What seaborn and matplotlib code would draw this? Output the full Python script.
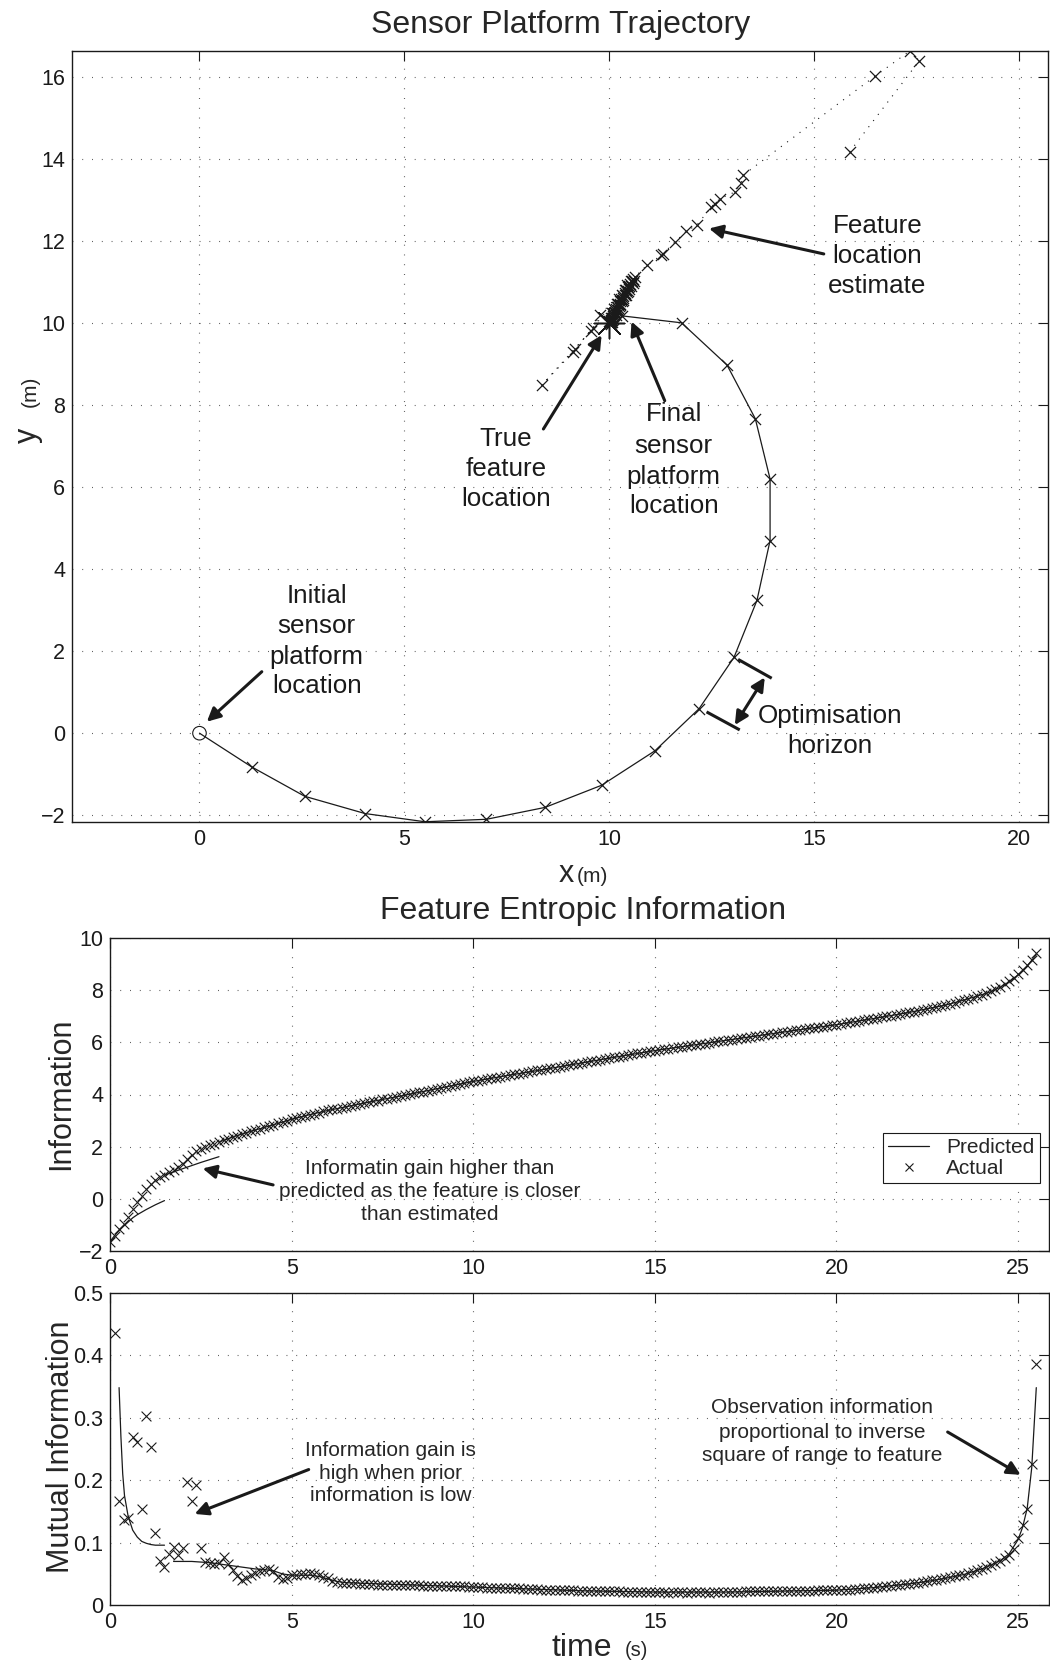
import numpy as np
import pandas as pd
import matplotlib
matplotlib.use("Agg")
import matplotlib.pyplot as plt
import seaborn as sns
from matplotlib.lines import Line2D

# ---------------- sensor platform trajectory (m) ----------------
traj_x = [0.00, 1.27, 2.57, 4.04, 5.50, 7.00, 8.43, 9.81, 11.11, 12.19,
          13.04, 13.60, 13.92, 13.92, 13.56, 12.87, 11.76, 10.30]
traj_y = [0.00, -0.82, -1.54, -1.96, -2.16, -2.10, -1.81, -1.27, -0.43, 0.60,
          1.85, 3.24, 4.70, 6.20, 7.67, 8.98, 10.01, 10.18]

# successive feature location estimates (m)
est_x = [15.86, 17.56, 17.33, 16.47, 13.26, 13.22, 13.06, 12.70, 12.57, 12.49,
         12.13, 11.88, 11.60, 11.31, 11.27, 10.91, 10.62, 9.16, 9.12, 8.35,
         9.55, 9.60, 9.77,
         10.58, 10.55, 10.57, 10.50, 10.49, 10.45, 10.47, 10.41, 10.42, 10.37,
         10.38, 10.33, 10.34, 10.29, 10.30, 10.26, 10.27, 10.22, 10.23, 10.19,
         10.20, 10.16, 10.17, 10.13, 10.14, 10.10, 10.11, 10.08, 10.09, 10.06,
         10.06, 10.04, 10.04, 10.03, 10.02, 10.02, 10.01,
         10.60, 10.52, 10.53, 10.44, 10.46, 10.37, 10.40, 10.31, 10.33, 10.24,
         10.27, 10.18, 10.21, 10.12, 10.15, 10.07, 10.10, 10.03, 10.06, 9.99,
         10.03, 10.00]
est_y = [14.18, 16.40, 16.64, 16.02, 13.61, 13.41, 13.20, 13.04, 12.92, 12.84,
         12.39, 12.25, 11.98, 11.70, 11.66, 11.41, 11.13, 9.36, 9.30, 8.49,
         9.82, 9.88, 10.20,
         11.08, 11.04, 10.99, 10.96, 10.90, 10.88, 10.83, 10.80, 10.75, 10.73,
         10.68, 10.66, 10.61, 10.59, 10.55, 10.53, 10.48, 10.47, 10.42, 10.40,
         10.36, 10.34, 10.30, 10.28, 10.24, 10.23, 10.19, 10.17, 10.13, 10.12,
         10.09, 10.08, 10.05, 10.04, 10.03, 10.01, 10.01,
         11.02, 11.03, 10.91, 10.93, 10.79, 10.80, 10.68, 10.69, 10.57, 10.58,
         10.45, 10.46, 10.33, 10.35, 10.21, 10.24, 10.10, 10.13, 10.03, 10.06,
         9.98, 10.00]

true_feature_x = [10.0]
true_feature_y = [10.0]

# ---------------- entropic information (sampled at 8 Hz) ----------------
sample_rate_hz = 8

info_actual = [
    -1.63, -1.40, -1.15, -0.95, -0.68, -0.40, -0.12, 0.12, 0.38, 0.58,
    0.74, 0.84, 0.92, 1.02, 1.12, 1.22, 1.33, 1.52, 1.68, 1.83,
    1.92, 1.99, 2.06, 2.12, 2.18, 2.25, 2.31, 2.37, 2.43, 2.49,
    2.54, 2.59, 2.64, 2.69, 2.74, 2.79, 2.84, 2.90, 2.95, 3.00,
    3.05, 3.09, 3.14, 3.19, 3.23, 3.27, 3.31, 3.35, 3.39, 3.43,
    3.46, 3.50, 3.53, 3.57, 3.60, 3.64, 3.67, 3.71, 3.74, 3.77,
    3.81, 3.84, 3.88, 3.91, 3.94, 3.98, 4.01, 4.04, 4.08, 4.11,
    4.15, 4.18, 4.22, 4.25, 4.29, 4.32, 4.36, 4.39, 4.43, 4.46,
    4.50, 4.53, 4.56, 4.59, 4.62, 4.65, 4.68, 4.71, 4.74, 4.77,
    4.80, 4.83, 4.86, 4.89, 4.92, 4.95, 4.97, 5.00, 5.03, 5.06,
    5.09, 5.12, 5.15, 5.18, 5.21, 5.24, 5.27, 5.30, 5.33, 5.36,
    5.39, 5.42, 5.45, 5.48, 5.51, 5.54, 5.57, 5.60, 5.62, 5.65,
    5.68, 5.70, 5.73, 5.75, 5.78, 5.80, 5.83, 5.85, 5.88, 5.90,
    5.93, 5.95, 5.98, 6.00, 6.03, 6.05, 6.08, 6.10, 6.13, 6.15,
    6.18, 6.20, 6.23, 6.25, 6.28, 6.30, 6.33, 6.35, 6.38, 6.40,
    6.43, 6.45, 6.48, 6.50, 6.53, 6.55, 6.58, 6.60, 6.63, 6.65,
    6.67, 6.70, 6.73, 6.76, 6.79, 6.82, 6.84, 6.87, 6.90, 6.93,
    6.96, 6.99, 7.02, 7.05, 7.08, 7.11, 7.14, 7.17, 7.21, 7.24,
    7.28, 7.31, 7.35, 7.38, 7.42, 7.46, 7.51, 7.56, 7.61, 7.66,
    7.71, 7.76, 7.82, 7.89, 7.96, 8.04, 8.12, 8.22, 8.33, 8.46,
    8.62, 8.78, 8.96, 9.16, 9.42]

# predicted information, one segment per planning horizon
pred_info_t_a = [0.0, 0.125, 0.25, 0.375, 0.5, 0.625, 0.75, 1.0, 1.25, 1.5]
pred_info_a = [-1.63, -1.40, -1.21, -1.04, -0.88, -0.72, -0.60, -0.40, -0.22, -0.06]
pred_info_t_b = [1.5, 1.75, 2.0, 2.25, 2.5, 2.75, 3.0]
pred_info_b = [0.92, 1.04, 1.16, 1.28, 1.40, 1.51, 1.62]
pred_info_t_c = [3.0, 3.5, 4.0, 4.5, 5.0, 5.5, 6.0, 6.5, 7.0, 7.5, 8.0, 8.5, 9.0, 9.5,
                 10.0, 11.0, 12.0, 13.0, 14.0, 15.0, 16.0, 17.0, 18.0, 19.0, 20.0,
                 21.0, 22.0, 22.5, 23.0, 23.5, 24.0, 24.25, 24.5, 24.75, 25.0,
                 25.25, 25.5]
pred_info_c = [2.18, 2.43, 2.64, 2.84, 3.05, 3.23, 3.39, 3.53, 3.67, 3.81, 3.94, 4.08,
               4.22, 4.36, 4.50, 4.74, 4.97, 5.21, 5.45, 5.68, 5.88, 6.08, 6.28,
               6.48, 6.67, 6.90, 7.14, 7.28, 7.42, 7.61, 7.82, 7.93, 8.10, 8.30,
               8.58, 8.92, 9.35]

# ---------------- mutual information per observation ----------------
mi_actual = [
    0.435, 0.166, 0.137, 0.140, 0.269, 0.261, 0.154, 0.303, 0.253, 0.116,
    0.070, 0.061, 0.082, 0.093, 0.080, 0.091, 0.197, 0.166, 0.193, 0.092,
    0.069, 0.068, 0.066, 0.068, 0.077, 0.066, 0.056, 0.047, 0.040, 0.044,
    0.048, 0.051, 0.055, 0.057, 0.058, 0.054, 0.045, 0.042, 0.044, 0.048,
    0.049, 0.050, 0.050, 0.051, 0.050, 0.048, 0.045, 0.043, 0.039, 0.037,
    0.036, 0.035, 0.035, 0.035, 0.034, 0.034, 0.034, 0.034, 0.033, 0.033,
    0.033, 0.033, 0.033, 0.032, 0.032, 0.032, 0.032, 0.032, 0.031, 0.031,
    0.031, 0.031, 0.031, 0.030, 0.030, 0.030, 0.030, 0.030, 0.029, 0.029,
    0.029, 0.029, 0.028, 0.028, 0.028, 0.028, 0.027, 0.027, 0.027, 0.027,
    0.026, 0.026, 0.026, 0.026, 0.025, 0.025, 0.025, 0.025, 0.024, 0.024,
    0.024, 0.024, 0.023, 0.023, 0.023, 0.023, 0.022, 0.022, 0.022, 0.022,
    0.022, 0.022, 0.021, 0.021, 0.021, 0.021, 0.021, 0.021, 0.021, 0.021,
    0.021, 0.021, 0.020, 0.021, 0.021, 0.021, 0.020, 0.021, 0.021, 0.021,
    0.021, 0.020, 0.021, 0.021, 0.021, 0.021, 0.021, 0.021, 0.021, 0.022,
    0.022, 0.022, 0.022, 0.022, 0.022, 0.022, 0.022, 0.022, 0.023, 0.023,
    0.023, 0.023, 0.023, 0.023, 0.023, 0.024, 0.024, 0.024, 0.024, 0.024,
    0.025, 0.025, 0.025, 0.026, 0.026, 0.027, 0.027, 0.028, 0.029, 0.029,
    0.030, 0.031, 0.032, 0.033, 0.034, 0.034, 0.035, 0.036, 0.037, 0.038,
    0.040, 0.041, 0.042, 0.043, 0.045, 0.046, 0.048, 0.049, 0.051, 0.053,
    0.056, 0.058, 0.061, 0.064, 0.067, 0.071, 0.075, 0.081, 0.090, 0.108,
    0.128, 0.154, 0.226, 0.386]

pred_mi_t_a = [0.25, 0.3, 0.35, 0.4, 0.5, 0.625, 0.75, 0.875, 1.0, 1.125, 1.25, 1.375, 1.5]
pred_mi_a = [0.348, 0.270, 0.210, 0.175, 0.142, 0.120, 0.109, 0.102, 0.099, 0.097,
             0.096, 0.096, 0.096]
pred_mi_t_b = [1.75, 2.0, 2.25, 2.5, 2.75, 3.0, 3.25, 3.5, 3.75, 4.0, 4.25, 4.5, 4.75,
               5.0, 5.25, 5.5, 5.75, 6.0, 6.25, 6.5, 7.0, 8.0, 9.0, 10.0, 11.0, 12.0,
               13.0, 14.0, 15.0, 16.0, 17.0, 18.0, 19.0, 20.0, 21.0, 22.0, 22.5, 23.0,
               23.5, 24.0, 24.25, 24.5, 24.75, 25.0, 25.125, 25.25, 25.375, 25.5]
pred_mi_b = [0.070, 0.070, 0.070, 0.069, 0.068, 0.066, 0.064, 0.062, 0.060, 0.058,
             0.057, 0.055, 0.050, 0.048, 0.048, 0.048, 0.046, 0.042, 0.038, 0.036,
             0.035, 0.033, 0.031, 0.029, 0.027, 0.025, 0.023, 0.022, 0.021, 0.021,
             0.021, 0.022, 0.023, 0.024, 0.028, 0.034, 0.038, 0.043, 0.049, 0.058,
             0.064, 0.071, 0.082, 0.105, 0.125, 0.155, 0.220, 0.348]

# ---------------- tables for seaborn ----------------
t_info = np.arange(len(info_actual)) / sample_rate_hz
t_mi = np.arange(1, len(mi_actual) + 1) / sample_rate_hz
info_df = pd.DataFrame({"t": t_info, "info": info_actual})
mi_df = pd.DataFrame({"t": t_mi, "mi": mi_actual})

pred_info_df = pd.concat([
    pd.DataFrame({"t": pred_info_t_a, "v": pred_info_a, "seg": "a"}),
    pd.DataFrame({"t": pred_info_t_b, "v": pred_info_b, "seg": "b"}),
    pd.DataFrame({"t": pred_info_t_c, "v": pred_info_c, "seg": "c"}),
], ignore_index=True)
pred_mi_df = pd.concat([
    pd.DataFrame({"t": pred_mi_t_a, "v": pred_mi_a, "seg": "a"}),
    pd.DataFrame({"t": pred_mi_t_b, "v": pred_mi_b, "seg": "b"}),
], ignore_index=True)
traj_df = pd.DataFrame({"x": traj_x, "y": traj_y})
est_df = pd.DataFrame({"x": est_x, "y": est_y})

# ---------------- style ----------------
sns.set_theme(style="white")
plt.rcParams["font.family"] = ["Liberation Sans", "DejaVu Sans"]
plt.rcParams["axes.linewidth"] = 1.0
plt.rcParams["axes.edgecolor"] = "black"

W, H = 1050, 1661
fig = plt.figure(figsize=(W / 100, H / 100), dpi=100)


def fx(px):
    return px / W


def fy(py):
    return 1 - py / H


GRID = dict(linestyle=(0, (0.8, 8.0)), color="0.3", linewidth=0.8)
ARROW = dict(arrowstyle="-|>", color="k", lw=2.2, mutation_scale=20,
             shrinkA=0, shrinkB=0)


def style_axes(ax):
    ax.grid(True, **GRID)
    ax.tick_params(direction="in", length=7, width=0.8, top=True, right=True,
                   labelsize=15.5, pad=5, colors="k")
    for s in ax.spines.values():
        s.set_visible(True)
        s.set_color("k")
        s.set_linewidth(1.0)
    ax.set_xlabel("")
    ax.set_ylabel("")


# ================= top panel: trajectory =================
ax1 = fig.add_axes([fx(72), fy(822), fx(976), 771 / H])
sns.lineplot(data=est_df, x="x", y="y", sort=False, estimator=None, ax=ax1,
             color="k", linewidth=0.8, linestyle=(0, (1, 6)))
sns.scatterplot(data=est_df, x="x", y="y", ax=ax1, marker="x", color="k",
                s=64, linewidth=0.9, zorder=3)
sns.lineplot(data=traj_df, x="x", y="y", sort=False, estimator=None, ax=ax1,
             color="k", linewidth=0.9)
sns.scatterplot(data=traj_df.iloc[1:], x="x", y="y", ax=ax1, marker="x",
                color="k", s=64, linewidth=0.9, zorder=3)
sns.scatterplot(data=traj_df.iloc[:1], x="x", y="y", ax=ax1, marker="o",
                color="k", facecolor="none", edgecolor="k", s=95,
                linewidth=0.8, zorder=3)
sns.scatterplot(x=true_feature_x, y=true_feature_y, ax=ax1, marker=(8, 2, 0),
                color="k", s=480, linewidth=1.1, zorder=4)
ax1.set_xlim(-3.11, 20.70)
ax1.set_ylim(-2.166, 16.64)
ax1.set_xticks([0, 5, 10, 15, 20])
ax1.set_yticks(list(range(-2, 17, 2)))
ax1.set_yticklabels(["\u22122"] + [str(v) for v in range(0, 17, 2)])
style_axes(ax1)


def py2y(py):
    return (733.2 - py) / 41.0


def lines_at(ax, x, baselines_px, lines, size):
    for b, s in zip(baselines_px, lines):
        ax.text(x, py2y(b), s, ha="center", va="baseline", fontsize=size, color="k")


ANN = 18.7
lines_at(ax1, 16.54, [233, 263, 293], ["Feature", "location", "estimate"], ANN)
lines_at(ax1, 7.48, [446, 476, 506], ["True", "feature", "location"], ANN)
lines_at(ax1, 11.57, [421, 453, 484, 513], ["Final", "sensor", "platform", "location"], ANN)
lines_at(ax1, 2.86, [603, 633, 664, 693], ["Initial", "sensor", "platform", "location"], ANN)
lines_at(ax1, 15.38, [723, 753], ["Optimisation", "horizon"], ANN)

ax1.annotate("", xy=(12.43, 12.31), xytext=(15.23, 11.69), arrowprops=ARROW)
ax1.annotate("", xy=(9.81, 9.71), xytext=(8.39, 7.42), arrowprops=ARROW)
ax1.annotate("", xy=(10.54, 10.04), xytext=(11.35, 8.11), arrowprops=ARROW)
ax1.annotate("", xy=(0.18, 0.28), xytext=(1.52, 1.50), arrowprops=ARROW)
ax1.annotate("", xy=(13.06, 0.20), xytext=(13.79, 1.36),
             arrowprops=dict(ARROW, arrowstyle="<|-|>"))
ax1.plot([13.14, 13.96], [1.80, 1.34], color="k", lw=2.2, solid_capstyle="butt")
ax1.plot([12.37, 13.18], [0.52, 0.08], color="k", lw=2.2, solid_capstyle="butt")

fig.text(fx(561), fy(33.5), "Sensor Platform Trajectory", ha="center",
         va="baseline", fontsize=23)
fig.text(fx(574), fy(882), "x", ha="right", va="baseline", fontsize=22)
fig.text(fx(577), fy(882), "(m)", ha="left", va="baseline", fontsize=15)
fig.text(fx(36), fy(443), "y", rotation=90, rotation_mode="anchor",
         ha="left", va="baseline", fontsize=22)
fig.text(fx(36), fy(407), "(m)", rotation=90, rotation_mode="anchor",
         ha="left", va="baseline", fontsize=15)

# ================= middle panel: information =================
ax2 = fig.add_axes([fx(110), fy(1251.3), fx(939), 313.6 / H])
sns.lineplot(data=pred_info_df, x="t", y="v", units="seg", estimator=None,
             sort=False, ax=ax2, color="k", linewidth=0.9)
sns.scatterplot(data=info_df, x="t", y="info", ax=ax2, marker="x", color="k",
                s=48, linewidth=0.8, zorder=3)
ax2.set_xlim(0, 25.85)
ax2.set_ylim(-2, 10)
ax2.set_xticks([0, 5, 10, 15, 20, 25])
ax2.set_yticks([-2, 0, 2, 4, 6, 8, 10])
ax2.set_yticklabels(["\u22122", "0", "2", "4", "6", "8", "10"])
style_axes(ax2)

for b, s in zip([0.97, 0.07, -0.82], ["Informatin gain higher than",
                                       "predicted as the feature is closer",
                                       "than estimated"]):
    ax2.text(8.79, b, s, ha="center", va="baseline", fontsize=15)
ax2.annotate("", xy=(2.55, 1.17), xytext=(4.49, 0.54), arrowprops=ARROW)

handles = [Line2D([], [], color="k", lw=0.9),
           Line2D([], [], color="k", marker="x", ls="none", ms=6, mew=0.8)]
leg = ax2.legend(handles, ["Predicted", "Actual"], loc="lower right",
                 bbox_to_anchor=(0.99, 0.2167), frameon=True, fancybox=False,
                 edgecolor="k", framealpha=1, fontsize=15, handlelength=2.0,
                 borderpad=0.25, labelspacing=0.1, handletextpad=0.8,
                 borderaxespad=0)
leg.get_frame().set_linewidth(0.8)

fig.text(fx(583), fy(919.5), "Feature Entropic Information", ha="center",
         va="baseline", fontsize=23)
fig.text(fx(69), fy(1094), "Information", rotation=90, rotation_mode="anchor",
         ha="center", va="baseline", fontsize=22)

# ================= bottom panel: mutual information =================
ax3 = fig.add_axes([fx(110), fy(1605.2), fx(939), 312.6 / H])
sns.lineplot(data=pred_mi_df, x="t", y="v", units="seg", estimator=None,
             sort=False, ax=ax3, color="k", linewidth=0.9)
sns.scatterplot(data=mi_df, x="t", y="mi", ax=ax3, marker="x", color="k",
                s=50, linewidth=0.8, zorder=3)
ax3.set_xlim(0, 25.85)
ax3.set_ylim(0, 0.5)
ax3.set_xticks([0, 5, 10, 15, 20, 25])
ax3.set_yticks([0, 0.1, 0.2, 0.3, 0.4, 0.5])
ax3.set_yticklabels(["0", "0.1", "0.2", "0.3", "0.4", "0.5"])
style_axes(ax3)

for b, s in zip([0.239, 0.202, 0.167], ["Information gain is",
                                         "high when prior",
                                         "information is low"]):
    ax3.text(7.73, b, s, ha="center", va="baseline", fontsize=15)
ax3.annotate("", xy=(2.33, 0.146), xytext=(5.47, 0.217), arrowprops=ARROW)

for b, s in zip([0.308, 0.268, 0.231], ["Observation information",
                                         "proportional to inverse",
                                         "square of range to feature"]):
    ax3.text(19.6, b, s, ha="center", va="baseline", fontsize=15)
ax3.annotate("", xy=(25.07, 0.2085), xytext=(23.06, 0.277), arrowprops=ARROW)

fig.text(fx(69), fy(1447), "Mutual Information", rotation=90,
         rotation_mode="anchor", ha="center", va="baseline", fontsize=22)
fig.text(fx(612), fy(1656), "time", ha="right", va="baseline", fontsize=23)
fig.text(fx(625), fy(1656), "(s)", ha="left", va="baseline", fontsize=14.5)

fig.savefig("out.png", dpi=100)
